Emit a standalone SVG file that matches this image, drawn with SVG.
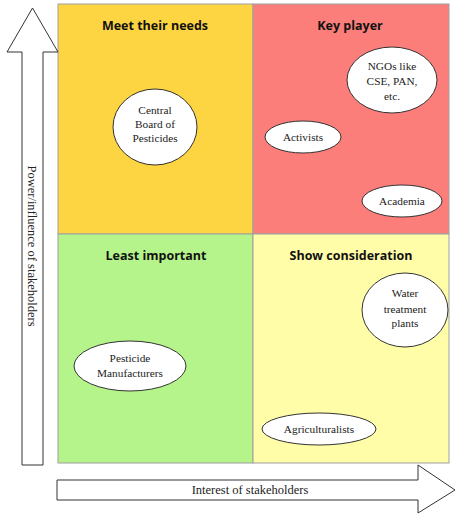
<svg xmlns="http://www.w3.org/2000/svg" width="456" height="514" viewBox="0 0 456 514">
<style>
.q{stroke:#a0a0a0;stroke-width:1}
.t{font-family:"Open Sans","Liberation Sans",sans-serif;font-weight:bold;font-size:12.5px;text-anchor:middle;fill:#111}
.n{fill:#fff;stroke:#333;stroke-width:1}
.l{font-family:"Liberation Serif",serif;font-size:11.3px;text-anchor:middle;fill:#222}
.a{fill:#fff;stroke:#333;stroke-width:1}
.al{font-family:"Liberation Serif",serif;font-size:12.5px;text-anchor:middle;fill:#222}
</style>
<rect width="456" height="514" fill="#fff"/>
<g id="quadrants">
<rect class="q" x="58" y="4" width="195" height="230" fill="#FDD441"/>
<rect class="q" x="253" y="4" width="196" height="230" fill="#FB7E7A"/>
<rect class="q" x="58" y="234" width="195" height="229" fill="#B4F48A"/>
<rect class="q" x="253" y="234" width="196" height="229" fill="#FFFDA8"/>
<text class="t" x="155" y="30">Meet their needs</text>
<text class="t" x="350" y="30">Key player</text>
<text class="t" x="156" y="260">Least important</text>
<text class="t" x="351" y="260">Show consideration</text>
</g>
<g id="axis-y">
<path class="a" d="M22,465 L22,52 L7,52 L32.5,8 L58,52 L43,52 L43,465 Z"/>
<text class="al" transform="translate(28,246) rotate(90)">Power/influence of stakeholders</text>
</g>
<g id="axis-x">
<path class="a" d="M57,480 L418,480 L418,465 L455,490 L418,513 L418,500 L57,500 Z"/>
<text class="al" x="250" y="494">Interest of stakeholders</text>
</g>
<g id="central-board">
<ellipse class="n" cx="155" cy="127" rx="42" ry="38"/>
<text class="l" x="155" y="114">Central</text>
<text class="l" x="155" y="128">Board of</text>
<text class="l" x="155" y="142">Pesticides</text>
</g>
<g id="ngos">
<ellipse class="n" cx="392" cy="80" rx="45" ry="33"/>
<text class="l" x="392" y="70">NGOs like</text>
<text class="l" x="392" y="85">CSE, PAN,</text>
<text class="l" x="392" y="100">etc.</text>
</g>
<g id="activists">
<ellipse class="n" cx="303" cy="137" rx="38" ry="16"/>
<text class="l" x="303" y="141">Activists</text>
</g>
<g id="academia">
<ellipse class="n" cx="402" cy="201" rx="40" ry="16"/>
<text class="l" x="402" y="205">Academia</text>
</g>
<g id="pesticide-manufacturers">
<ellipse class="n" cx="130" cy="366" rx="56" ry="25"/>
<text class="l" x="130" y="362">Pesticide</text>
<text class="l" x="130" y="377">Manufacturers</text>
</g>
<g id="water-treatment">
<ellipse class="n" cx="405" cy="310" rx="43" ry="37"/>
<text class="l" x="405" y="297">Water</text>
<text class="l" x="405" y="313">treatment</text>
<text class="l" x="405" y="327">plants</text>
</g>
<g id="agriculturalists">
<ellipse class="n" cx="319" cy="429" rx="57" ry="16"/>
<text class="l" x="319" y="433">Agriculturalists</text>
</g>
<g id="connectors"/>
</svg>
